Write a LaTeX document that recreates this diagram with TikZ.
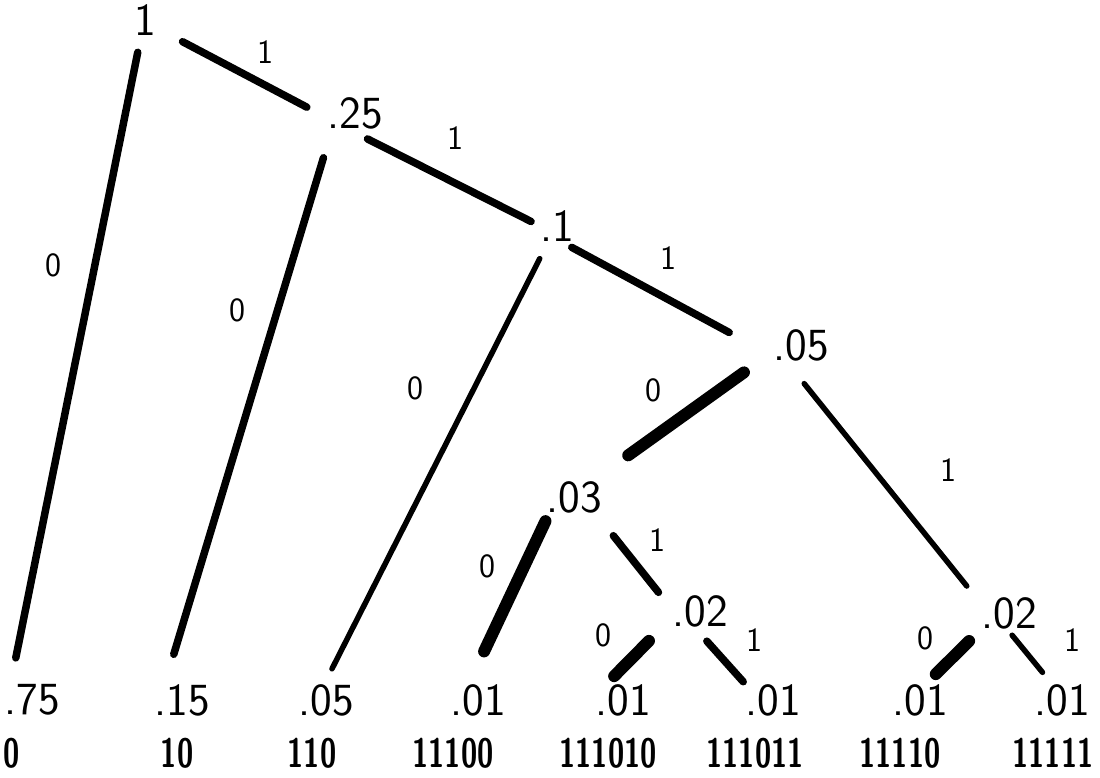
\documentclass[tikz,border=0pt]{standalone}
\usepackage{tikz}

\tikzset{
  prob/.style={font=\sffamily\fontsize{46}{50}\selectfont, inner sep=0pt},
  code/.style={font=\sffamily\bfseries\fontsize{41}{45}\selectfont, inner sep=0pt, xscale=0.72, transform shape},
  bit/.style={font=\sffamily\fontsize{34}{38}\selectfont, inner sep=0pt},
  edge/.style={line width=7.5pt, line cap=round},
  heavy/.style={line width=12pt, line cap=round},
  slim/.style={line width=5.5pt, line cap=round}
}

\begin{document}
\begin{tikzpicture}[x=1pt, y=-1pt]
  \useasboundingbox (0,0) rectangle (1100,778);

  % inner nodes
  \node[prob] (root) at (145,20) {1};
  \node[prob] (n25) at (355,113) {.25};
  \node[prob] (n1) at (557,226) {.1};
  \node[prob] (n05) at (801,345) {.05};
  \node[prob] (n03) at (574,497) {.03};
  \node[prob] (n02a) at (700,611) {.02};
  \node[prob] (n02b) at (1009,613) {.02};

  % leaves
  \node[prob] (l1) at (32,700) {.75};
  \node[prob] (l2) at (182,700) {.15};
  \node[prob] (l3) at (326,700) {.05};
  \node[prob] (l4) at (478,700) {.01};
  \node[prob] (l5) at (623,700) {.01};
  \node[prob] (l6) at (773,700) {.01};
  \node[prob] (l7) at (920,700) {.01};
  \node[prob] (l8) at (1062,700) {.01};

  % codewords
  \node[code] (c1) at (12,753) {0};
  \node[code] (c2) at (177,753) {10};
  \node[code] (c3) at (312,753) {110};
  \node[code] (c4) at (453,753) {11100};
  \node[code] (c5) at (608,753) {111010};
  \node[code] (c6) at (755,753) {111011};
  \node[code] (c7) at (900,753) {11110};
  \node[code] (c8) at (1053,753) {11111};

  % branches
  \draw[edge, shorten <=30pt, shorten >=23pt] (root.-35) -- (n25.190);
  \draw[edge, shorten <=17pt, shorten >=27pt] (root.256) -- (l1.144);
  \draw[edge, shorten <=22pt, shorten >=10pt] (n25.246) -- (n1.west);
  \draw[edge, shorten <=30pt, shorten >=31pt] (n25.215) -- (l2.137);
  \draw[edge, shorten <=12pt, shorten >=50pt] (n1.285) -- (n05.202);
  \draw[slim, shorten <=19pt, shorten >=17pt] (n1.241) -- (l3.96);
  \draw[heavy, shorten <=36pt, shorten >=44pt] (n05.193) -- (n03.41);
  \draw[slim, shorten <=29pt, shorten >=23pt] (n05.227) -- (n02b.162);
  \draw[heavy, shorten <=9pt, shorten >=36pt] (n03.213) -- (l4.120);
  \draw[edge, shorten <=29pt, shorten >=22pt] (n03.-37) -- (n02a.177);
  \draw[heavy, shorten <=33pt, shorten >=11pt] (n02a.193) -- (l5.136);
  \draw[edge, shorten <=19pt, shorten >=3pt] (n02a.250) -- (l6.150);
  \draw[heavy, shorten <=17pt, shorten >=14pt] (n02b.south west) -- (l7.70);
  \draw[slim, shorten <=8pt, shorten >=15pt] (n02b.263) -- (l8.122);

  % branch bits
  \node[bit] (b1) at (265,52) {1};
  \node[bit] (b2) at (53,265) {0};
  \node[bit] (b3) at (455,138) {1};
  \node[bit] (b4) at (237,310) {0};
  \node[bit] (b5) at (668,258) {1};
  \node[bit] (b6) at (415,388) {0};
  \node[bit] (b7) at (653,390) {0};
  \node[bit] (b8) at (948,470) {1};
  \node[bit] (b9) at (487,566) {0};
  \node[bit] (b10) at (657,540) {1};
  \node[bit] (b11) at (603,635) {0};
  \node[bit] (b12) at (754,640) {1};
  \node[bit] (b13) at (925,638) {0};
  \node[bit] (b14) at (1072,640) {1};
\end{tikzpicture}
\end{document}
